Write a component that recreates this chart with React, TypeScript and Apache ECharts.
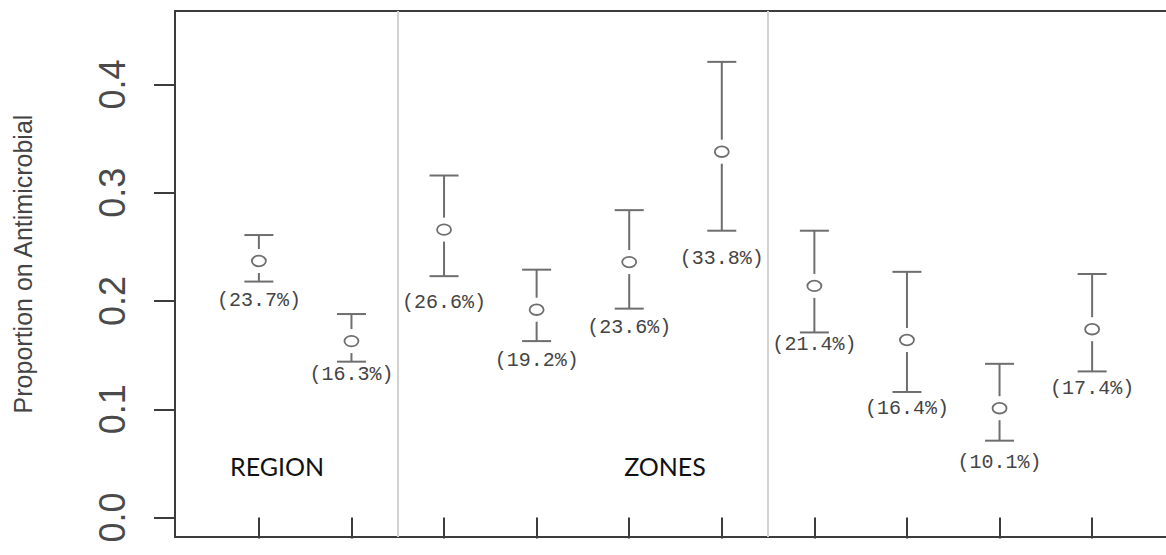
import React, { useEffect, useRef } from "react";
import * as echarts from "echarts";

// ---- data ----
const xPositions = [1, 2, 3, 4, 5, 6, 7, 8, 9, 10];
const proportions = [0.237, 0.163, 0.266, 0.192, 0.236, 0.338, 0.214, 0.164, 0.101, 0.174];
const lowerCI = [0.218, 0.144, 0.223, 0.163, 0.193, 0.265, 0.171, 0.116, 0.071, 0.135];
const upperCI = [0.261, 0.188, 0.316, 0.229, 0.284, 0.421, 0.265, 0.227, 0.142, 0.225];
const yTicks = [0, 0.1, 0.2, 0.3, 0.4];
const separators = [2.5, 6.5];
const groupTitles = ["REGION", "ZONES"];
const yTitle = "Proportion on Antimicrobial";

// ---- style (label distance below the lower cap, px) ----
const LABEL_GAP = [19, 13, 26, 19, 19, 28, 12, 17, 22, 17];

export default function App() {
  const ref = useRef<HTMLDivElement>(null);

  useEffect(() => {
    if (!ref.current) return;
    const chart = echarts.init(ref.current, undefined, { renderer: "svg" });
    const barColor = "#6e6e6e";
    const axisColor = "#3c3c3c";

    const option: any = {
      animation: false,
      backgroundColor: "#ffffff",
      grid: {
        left: 175,
        right: -10,
        top: 11,
        bottom: 18,
        show: true,
        borderColor: axisColor,
        borderWidth: 2,
        backgroundColor: "transparent",
        outerBoundsMode: "none",
      },
      xAxis: {
        type: "value",
        min: 0.094,
        max: 10.906,
        axisLine: { show: false },
        splitLine: { show: false },
        axisLabel: { show: false },
        axisTick: {
          show: true,
          length: 21,
          customValues: xPositions,
          lineStyle: { color: axisColor, width: 2 },
        },
      },
      yAxis: {
        type: "value",
        min: -0.018,
        max: 0.468,
        axisLine: { show: false },
        splitLine: { show: false },
        axisTick: {
          show: true,
          length: 21,
          customValues: yTicks,
          lineStyle: { color: axisColor, width: 2 },
        },
        axisLabel: {
          customValues: yTicks,
          rotate: 90,
          margin: 45,
          fontSize: 36,
          fontFamily: "Liberation Sans",
          color: "#4a4a4a",
          formatter: (v: number) => v.toFixed(1),
        },
        name: yTitle,
        nameLocation: "middle",
        nameRotate: 90,
        nameGap: 140,
        nameTextStyle: {
          fontSize: 25,
          fontFamily: "Liberation Sans",
          color: "#444444",
          padding: [0, 0, 0, 20],
        },
      },
      graphic: [
        {
          type: "text",
          x: 277,
          y: 466,
          style: {
            text: groupTitles[0],
            fontFamily: "Lato",
            fontSize: 25,
            fill: "#111111",
            align: "center",
            verticalAlign: "middle",
          },
        },
        {
          type: "text",
          x: 665,
          y: 466,
          style: {
            text: groupTitles[1],
            fontFamily: "Lato",
            fontSize: 25,
            fill: "#111111",
            align: "center",
            verticalAlign: "middle",
          },
        },
      ],
      series: [
        {
          type: "scatter",
          data: [],
          silent: true,
          markLine: {
            silent: true,
            symbol: "none",
            label: { show: false },
            lineStyle: { color: "#d2d2d2", width: 2, type: "solid" },
            data: separators.map((v) => ({ xAxis: v })),
          },
        },
        {
          type: "custom",
          clip: false,
          encode: { x: 0, y: 1 },
          data: xPositions.map((x, i) => [x, proportions[i], lowerCI[i], upperCI[i]]),
          renderItem: (params: any, api: any) => {
            const i = params.dataIndex;
            const x = api.value(0);
            const p = api.value(1);
            const c = api.coord([x, p]);
            const lo = api.coord([x, api.value(2)]);
            const hi = api.coord([x, api.value(3)]);
            const cap = 14.5;
            const gap = 12;
            const ls = { stroke: barColor, lineWidth: 2 };
            return {
              type: "group",
              children: [
                { type: "line", shape: { x1: hi[0] - cap, y1: hi[1], x2: hi[0] + cap, y2: hi[1] }, style: ls },
                { type: "line", shape: { x1: hi[0], y1: hi[1], x2: hi[0], y2: c[1] - gap }, style: ls },
                { type: "line", shape: { x1: lo[0], y1: c[1] + gap, x2: lo[0], y2: lo[1] }, style: ls },
                { type: "line", shape: { x1: lo[0] - cap, y1: lo[1], x2: lo[0] + cap, y2: lo[1] }, style: ls },
                {
                  type: "ellipse",
                  shape: { cx: c[0], cy: c[1], rx: 7, ry: 5.3 },
                  style: { stroke: barColor, lineWidth: 1.8, fill: "#ffffff" },
                },
                {
                  type: "text",
                  x: lo[0],
                  y: lo[1] + LABEL_GAP[i],
                  style: {
                    text: "(" + (p * 100).toFixed(1) + "%)",
                    fill: "#444444",
                    fontSize: 20,
                    fontFamily: "Liberation Mono",
                    align: "center",
                    verticalAlign: "middle",
                  },
                },
              ],
            };
          },
        },
      ],
    };

    chart.setOption(option);
    return () => chart.dispose();
  }, []);

  return (
    <div
      ref={ref}
      style={{ position: "absolute", left: 0, top: 0, width: 1166, height: 555 }}
    />
  );
}
